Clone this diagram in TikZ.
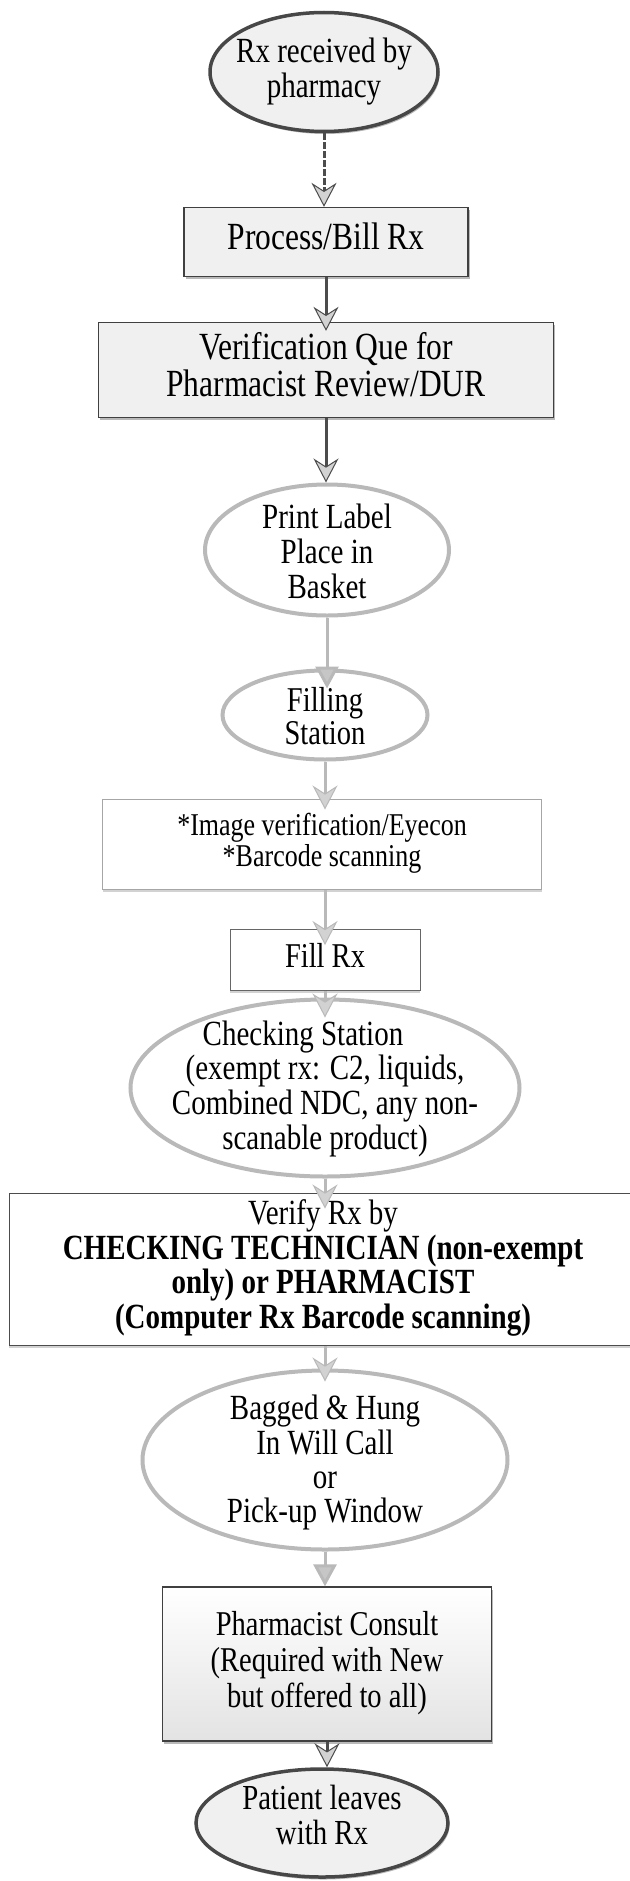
\documentclass[tikz,border=0pt]{standalone}
\usepackage{fontspec}
\setmainfont{Liberation Serif}
\usetikzlibrary{shapes.geometric,arrows.meta,shadows,calc}
\newcommand\vt[1]{\scalebox{1}[1.22]{\begin{tabular}{@{}c@{}}#1\end{tabular}}}
\begin{document}
\begin{tikzpicture}[x=1pt,y=-1pt,
  lbl/.style={align=center,inner sep=0pt,font=\fontsize{29}{27.5}\selectfont},
  darkell/.style={ellipse,draw=black!72,line width=3.5pt,fill=gray!12,inner sep=0pt,
    drop shadow={shadow xshift=1.5pt,shadow yshift=-2.5pt,fill=gray!55,opacity=1}},
  greyell/.style={ellipse,draw=gray!55,line width=4pt,fill=white,inner sep=0pt},
  shadebox/.style={rectangle,draw=black!75,line width=1.3pt,fill=gray!12,inner sep=0pt,align=center,
    drop shadow={shadow xshift=1.5pt,shadow yshift=-2.5pt,fill=gray!55,opacity=1}},
  plainbox/.style={rectangle,draw=gray!70,line width=1pt,fill=white,inner sep=0pt,align=center,
    drop shadow={shadow xshift=0pt,shadow yshift=-2.5pt,fill=gray!35,opacity=1}},
  arr/.style={draw=gray!55,line width=3pt,-{Stealth[length=24pt,width=25pt,inset=8pt,line width=1pt,fill=gray!35]}},
  darr/.style={arr,draw=black!70},
  tri/.style={draw=gray!55,line width=3pt,-{Triangle[length=22pt,width=23pt,fill=gray!45]}}
]
\useasboundingbox (0,0) rectangle (629,1881);

% nodes
\node[darkell, minimum width=228pt, minimum height=119pt] (rx) at (324,72) {};
\node[lbl] (rxt) at (324,73) {\vt{Rx received by\\pharmacy}};

\node[shadebox, minimum width=284pt, minimum height=69pt, font=\fontsize{31.5}{29.5}\selectfont] (proc) at (326,242) {\vt{Process/Bill Rx}};

\node[shadebox, minimum width=455pt, minimum height=95pt, font=\fontsize{31.5}{29.5}\selectfont] (verif) at (326,370) {\vt{Verification Que for\\Pharmacist Review/DUR}};

\node[greyell, minimum width=244pt, minimum height=131pt] (print) at (327,550) {};
\node[lbl, font=\fontsize{29}{28.3}\selectfont] (printt) at (327,556) {\vt{Print Label\\Place in\\Basket}};

\node[greyell, minimum width=205pt, minimum height=89pt] (fill) at (325,715) {};
\node[lbl, font=\fontsize{28.5}{26.5}\selectfont] (fillt) at (325,721) {\vt{Filling\\Station}};

\node[plainbox, minimum width=439pt, minimum height=90pt, font=\fontsize{26}{24.6}\selectfont] (img) at (322,844) {\vt{*Image verification/Eyecon\\{}*Barcode scanning}};

\node[plainbox, draw=black!60, minimum width=190pt, minimum height=61pt, font=\fontsize{28.5}{26.5}\selectfont] (fillrx) at (325,960) {\vt{Fill Rx}};

\node[greyell, minimum width=389pt, minimum height=177pt] (chk) at (325,1088) {};
\node[lbl] (chkt) at (325,1090) {\vt{Checking Station\hspace*{44pt}\\(exempt rx: C2, liquids,\\Combined NDC, any non-\\scanable product)}};

\node[plainbox, draw=black!70, minimum width=628pt, minimum height=152pt, font=\fontsize{29}{27.6}\selectfont] (ver) at (323,1269) {\vt{Verify Rx by\\\textbf{CHECKING TECHNICIAN (non-exempt}\\\textbf{only) or PHARMACIST}\\\textbf{(Computer Rx Barcode scanning)}}};

\node[greyell, minimum width=365pt, minimum height=179pt] (bag) at (325,1460) {};
\node[lbl] (bagt) at (325,1464) {\vt{Bagged \& Hung\\In Will Call\\or\\Pick-up Window}};

\node[shadebox, top color=white, bottom color=gray!22, minimum width=329pt, minimum height=154pt, font=\fontsize{28.5}{29.5}\selectfont] (cons) at (327,1664) {\vt{Pharmacist Consult\\(Required with New\\but offered to all)}};

\node[darkell, minimum width=252pt, minimum height=108pt] (pat) at (322,1823) {};
\node[lbl, font=\fontsize{28.8}{28.7}\selectfont] (patt) at (322,1820) {\vt{Patient leaves\\with Rx}};

% connectors
\draw[darr, dash pattern=on 7pt off 2pt] (rx.south) -- (rx.south |- proc.north);
\draw[darr] (proc.south) -- ($(proc.south |- verif.north)+(0,9)$);
\draw[darr] (verif.south) -- (verif.south |- print.north);
\draw[tri] (print.south) -- ($(print.south |- fill.north)+(0,20)$);
\draw[arr] (fill.south) -- ($(fill.south |- img.north)+(0,11)$);
\draw[arr] (fillrx.north |- img.south) -- ($(fillrx.north)+(0,16)$);
\draw[arr] (fillrx.south) -- ($(fillrx.south |- chk.north)+(0,20)$);
\draw[arr] (chk.south) -- ($(chk.south |- ver.north)+(0,16)$);
\draw[arr] (bag.north |- ver.south) -- ($(bag.north)+(0,13)$);
\draw[tri] (bag.south) -- (bag.south |- cons.north);
\draw[darr] (cons.south) -- (cons.south |- pat.north);
\end{tikzpicture}
\end{document}
